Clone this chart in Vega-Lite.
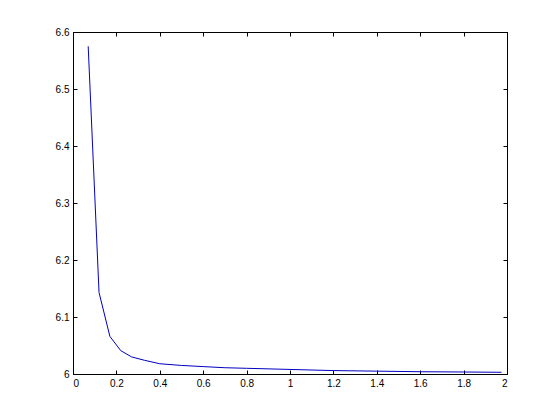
{
  "$schema": "https://vega.github.io/schema/vega-lite/v6.json",
  "width": 434,
  "height": 342,
  "autosize": {"type": "none"},
  "padding": {"left": 73, "top": 32, "right": 53, "bottom": 46},
  "background": "white",
  "config": {
    "view": {"stroke": "black", "strokeWidth": 1},
    "axis": {
      "domainColor": "black",
      "tickColor": "black",
      "labelColor": "black",
      "labelFont": "Liberation Sans",
      "labelFontSize": 10,
      "grid": false,
      "tickSize": -4,
      "title": null
    }
  },
  "data": {
    "values": [
      {"x": 0.07, "y": 6.575},
      {"x": 0.12, "y": 6.143},
      {"x": 0.17, "y": 6.066},
      {"x": 0.22, "y": 6.041},
      {"x": 0.27, "y": 6.030},
      {"x": 0.33, "y": 6.024},
      {"x": 0.40, "y": 6.018},
      {"x": 0.50, "y": 6.015},
      {"x": 0.60, "y": 6.013},
      {"x": 0.70, "y": 6.011},
      {"x": 0.80, "y": 6.010},
      {"x": 1.00, "y": 6.008},
      {"x": 1.20, "y": 6.006},
      {"x": 1.40, "y": 6.005},
      {"x": 1.60, "y": 6.004},
      {"x": 1.80, "y": 6.0035},
      {"x": 1.975, "y": 6.003}
    ]
  },
  "layer": [
    {
      "mark": {"type": "line", "color": "#0000c0", "strokeWidth": 1},
      "encoding": {
        "x": {"field": "x", "type": "quantitative", "scale": {"domain": [0, 2], "nice": false, "zero": false},
              "axis": {"orient": "bottom", "values": [0, 0.2, 0.4, 0.6, 0.8, 1, 1.2, 1.4, 1.6, 1.8, 2], "format": ".1~f", "labelPadding": 8}},
        "y": {"field": "y", "type": "quantitative", "scale": {"domain": [6, 6.6], "nice": false, "zero": false},
              "axis": {"orient": "left", "values": [6, 6.1, 6.2, 6.3, 6.4, 6.5, 6.6], "format": ".1~f", "labelPadding": 8}}
      }
    },
    {
      "mark": {"type": "line", "opacity": 0},
      "encoding": {
        "x": {"field": "x", "type": "quantitative", "axis": {"orient": "top", "values": [0, 0.2, 0.4, 0.6, 0.8, 1, 1.2, 1.4, 1.6, 1.8, 2], "labels": false}},
        "y": {"field": "y", "type": "quantitative", "axis": {"orient": "right", "values": [6, 6.1, 6.2, 6.3, 6.4, 6.5, 6.6], "labels": false}}
      }
    }
  ],
  "resolve": {"axis": {"x": "independent", "y": "independent"}}
}
